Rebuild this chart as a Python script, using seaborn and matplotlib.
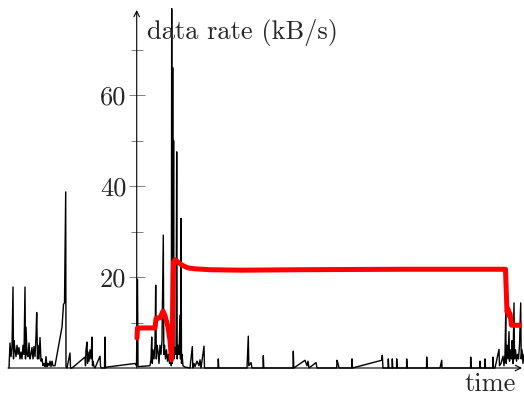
import numpy as np
import pandas as pd
import matplotlib
matplotlib.use('Agg')
import matplotlib.pyplot as plt
import seaborn as sns

# ── measured traffic (black) ──────────────────────────────────
t_black = [9, 9.5, 10, 11, 12, 13, 13.5, 14, 15, 16, 17, 18, 19, 20, 21, 22, 23, 24,
           25, 25.5, 26, 27, 28, 29, 30, 31, 32, 33, 34, 35, 36, 36.7, 37.5, 38, 39,
           40, 41, 42, 43, 44, 45, 46, 47, 48, 49, 50, 51, 52, 53, 55, 62, 63.5, 64.5,
           65.7, 66, 67, 70, 70.5, 72, 85, 85.5, 86, 87, 87.5, 88, 89, 90, 91, 92,
           92.5, 93, 94, 95, 100, 100.5, 101, 104.5, 105, 105.5, 107, 135, 136.5,
           137.5, 138, 150, 151, 151.7, 152.3, 153, 154, 155, 155.7, 156.3, 157, 158,
           159, 160, 161, 162, 163.3, 163.8, 164.5, 165.5, 166.5, 167.5, 168.5, 169.5,
           170.5, 171.3, 171.7, 172.2, 172.7, 173.1, 173.6, 174, 175, 176, 176.7,
           177.2, 178, 179, 180, 180.5, 181, 181.5, 182, 183, 185, 190, 192.3, 192.8,
           194, 195, 197, 199, 200, 201, 204, 204.5, 218, 218.3, 218.8, 247, 248.3,
           248.8, 251, 252, 263, 263.3, 263.8, 293, 293.3, 293.8, 305, 307, 308, 309,
           312, 316, 317, 336.7, 337, 338, 339, 351.7, 352, 352.5, 381.7, 382.3, 383,
           388, 388.3, 388.8, 392, 392.3, 392.8, 396.5, 396.7, 397.2, 406.5, 406.7,
           407.2, 426.5, 426.7, 427.2, 440, 441.7, 442, 470.5, 470.7, 471.2, 479.5,
           480, 480.5, 484.8, 485, 485.5, 492.8, 493, 493.5, 495, 499, 499.5, 501, 503,
           504, 505, 505.7, 506.2, 507, 508, 509, 509.5, 510.5, 511.5, 512, 513, 514,
           514.5, 515.5, 516.5, 517.5, 518.5, 519.5, 520.7, 521.2, 522, 523, 524]
v_black = [0, 3, 5.5, 2.5, 4.5, 17.8, 2, 6, 4, 2.5, 5, 3, 4.5, 2, 3.5, 2, 5, 3,
           17.8, 2, 9, 3, 2.5, 5.5, 2, 3, 4.5, 2, 4.7, 2.5, 7, 12.2, 2, 5, 2,
           6.7, 1.5, 2, 0.5, 1, 0.3, 2.5, 0.3, 1, 0.5, 1.5, 0.3, 1.5, 0.5, 0.5, 9, 14, 14.3,
           38.7, 0.3, 0, 3.3, 0, 0, 2.4, 0.5, 4, 5.7, 1, 3.5, 1.5, 4, 2, 6.8,
           0.5, 1.5, 0.3, 0, 2.6, 0.5, 0, 0, 6.8, 0, 0.2, 1, 0.5,
           19.5, 0.3, 0.5, 2, 6.8, 1, 4, 2, 5, 18.2, 2, 5, 3.7,
           1, 5, 3, 6, 29.2, 3, 5, 2, 4, 1.5, 3, 1,
           2.5, 0.5, 79, 1, 66, 3, 50, 2, 4.5, 3, 47.5,
           2, 5, 3, 11.6, 2, 32.9, 1, 3, 0.5, 0.2, 0, 4.7, 0,
           1, 0.3, 1.5, 0.5, 1.8, 0, 4.8, 0, 0, 2, 0, 0, 7,
           0.5, 1.2, 0, 0, 2.7, 0, 0, 3.7, 0, 1.7, 0.5, 1.5, 0,
           0.5, 1.2, 0, 0, 1.7, 1, 0, 0, 2, 0, 1.7, 2.8, 0,
           0, 2, 0, 0, 2, 0, 0, 2, 0, 0, 2,
           0, 0, 2.4, 0, 0, 1.7, 0, 0, 2.4, 0, 0,
           1.5, 0, 0, 2, 0, 0, 2.4, 0, 0, 4.1, 0.5, 1, 2.6,
           0.5, 3, 12, 1, 5, 2, 8, 1.5, 4, 2, 6, 1, 14.3,
           2, 4, 1.5, 3, 2, 5, 14.3, 2, 4, 1, 3]

# ── smoothed rate estimate (red) ──────────────────────────────
t_red = [137, 137.5, 138, 155, 156, 157, 160, 163, 165, 168, 170, 171.5, 172.5,
         173.5, 175, 178, 182, 188, 195, 210, 240, 300, 400, 505.5, 507, 508,
         509, 510, 511.5, 515, 524]
v_red = [6.6, 8.8, 8.8, 8.8, 10.8, 11, 11, 12.5, 11.5, 9, 6, 1.8, 10,
         23.3, 23.8, 23.3, 22.6, 22.0, 21.8, 21.6, 21.5, 21.6, 21.7, 21.7, 12.3, 13,
         11.5, 12, 9.4, 9.4, 9.4]

Y_AXIS_T = 136.7
T_MIN, T_MAX = 8, 522
Y_MAX = 358 / 4.55

sns.set_style('white')
plt.rcParams['font.family'] = ['cmr10', 'DejaVu Serif']
plt.rcParams['mathtext.fontset'] = 'cm'
plt.rcParams['axes.unicode_minus'] = False

W, H = 524, 395
fig = plt.figure(figsize=(W / 100, H / 100), dpi=100)
ax = fig.add_axes([8 / W, (H - 368) / H, 514 / W, 358 / H])

df_black = pd.DataFrame({'time': t_black, 'rate': v_black})
df_red = pd.DataFrame({'time': t_red, 'rate': v_red})

sns.lineplot(data=df_black, x='time', y='rate', estimator=None, sort=False,
             color='black', lw=1.0, ax=ax, zorder=3, clip_on=False)
sns.lineplot(data=df_red, x='time', y='rate', estimator=None, sort=False,
             color='#ff0000', lw=3.6, ax=ax, zorder=4)

ax.set_xlim(T_MIN, T_MAX)
ax.set_ylim(0, Y_MAX)
for s in ax.spines.values():
    s.set_visible(False)

# axis lines with arrow heads
ax.annotate('', xy=(Y_AXIS_T, Y_MAX), xytext=(Y_AXIS_T, 0),
            arrowprops=dict(arrowstyle='->', lw=0.8, color='black',
                            shrinkA=0, shrinkB=0), zorder=2)
ax.annotate('', xy=(T_MAX, 0), xytext=(T_MIN, 0),
            arrowprops=dict(arrowstyle='->', lw=0.8, color='black',
                            shrinkA=0, shrinkB=0), zorder=2, annotation_clip=False)

# y ticks drawn across the y axis
ax.set_yticks([20, 40, 60])
ax.set_yticks([10, 30, 50, 70], minor=True)
ax.yaxis.set_ticks_position('left')
ax.spines['left'].set_position(('data', Y_AXIS_T))
ax.tick_params(axis='y', which='major', direction='inout', length=11, width=0.7,
               color='#808080', labelsize=19, pad=2)
ax.tick_params(axis='y', which='minor', direction='inout', length=9, width=0.7,
               color='#808080')
ax.set_xticks([10])
ax.set_xticklabels([])
ax.tick_params(axis='x', direction='out', length=5, width=0.7, color='#808080')
ax.set_xlabel('')
ax.set_ylabel('')

fig.text(147 / W, 1 - 39 / H, 'data rate (kB/s)', fontsize=19,
         ha='left', va='baseline')
fig.text(516 / W, 1 - 391 / H, 'time', fontsize=19, ha='right', va='baseline')

fig.savefig('out.png', dpi=100)
